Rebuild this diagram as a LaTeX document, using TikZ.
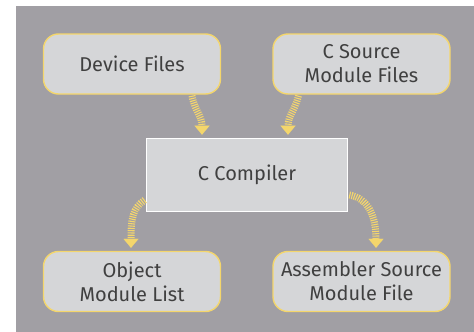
\documentclass[tikz,border=0pt]{standalone}
\usepackage{fontspec}
\setmainfont{Fira Sans}
\usetikzlibrary{arrows.meta,calc}
\definecolor{panel}{HTML}{A19FA4}
\definecolor{boxfill}{HTML}{D5D6D8}
\definecolor{goldline}{HTML}{F4D66C}
\definecolor{inkgray}{HTML}{404040}
\tikzset{
  filebox/.style={draw=goldline, line width=1.4pt, fill=boxfill, rounded corners=15pt,
    minimum width=177pt, minimum height=60pt, align=center, text=inkgray,
    font=\fontsize{20}{24}\selectfont, inner sep=0pt},
  toolbox/.style={draw=white, line width=1.6pt, fill=boxfill,
    minimum width=201pt, minimum height=73pt, text=inkgray,
    font=\fontsize{20}{24}\selectfont, inner sep=0pt},
  flow/.style={draw=goldline, line width=7pt, dash pattern=on 1.1pt off 1.2pt,
    -{Triangle[width=15pt,length=9pt,line width=0.01pt]}, shorten >=3pt}
}
\begin{document}
\begin{tikzpicture}[x=1pt,y=-1pt]
  \useasboundingbox (0,0) rectangle (474,332);
  \fill[white] (0,0) rectangle (474,332);
  \fill[panel] (16,6) rectangle (474,332);

  \node[filebox] (dev) at (132,64) {Device Files};
  \node[filebox] (src) at (361.5,64) {C Source\\Module Files};
  \node[toolbox] (cc) at (247,175) {C Compiler};
  \node[filebox] (obj) at (132,281.5) {Object\\Module List};
  \node[filebox] (asm) at (361.5,281.5) {Assembler Source\\Module File};

  \coordinate (devout) at ($(dev.south)+(60,1)$);
  \coordinate (srcout) at ($(src.south)+(-63,1)$);
  \coordinate (ccin1) at ($(cc.north)+(-45,0)$);
  \coordinate (ccin2) at ($(cc.north)+(41,0)$);
  \coordinate (ccout1) at ($(cc.west)+(-1,25)$);
  \coordinate (ccout2) at ($(cc.east)+(1,20)$);
  \coordinate (objin) at ($(obj.north)+(-1,0)$);
  \coordinate (asmin) at ($(asm.north)+(14.5,0)$);

  \draw[flow] (devout) .. controls ($(devout)+(3,16)$) and ($(ccin1)+(0,-22)$) .. (ccin1);
  \draw[flow] (srcout) .. controls ($(srcout)+(-4,16)$) and ($(ccin2)+(0,-22)$) .. (ccin2);
  \draw[flow] (ccout1) .. controls ($(ccout1)+(-12,8)$) and ($(objin)+(0,-32)$) .. (objin);
  \draw[flow] (ccout2) .. controls ($(ccout2)+(18,3)$) and ($(asmin)+(0,-36)$) .. (asmin);
\end{tikzpicture}
\end{document}
